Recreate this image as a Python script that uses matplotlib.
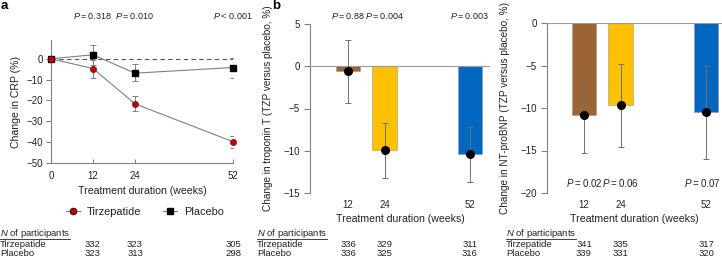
import numpy as np
import matplotlib
matplotlib.use("Agg")
import matplotlib.pyplot as plt
from matplotlib.lines import Line2D
from matplotlib.transforms import blended_transform_factory

plt.rcParams['font.family'] = ['Liberation Sans', 'DejaVu Sans']
plt.rcParams['mathtext.fontset'] = 'custom'
plt.rcParams['mathtext.rm'] = 'Liberation Sans'
plt.rcParams['mathtext.it'] = 'Liberation Sans:italic'

# ---- data ----
weeks_a = [0, 12, 24, 52]
tzp_crp = [0, -4.7, -21.6, -39.8]
tzp_crp_lo = [0, -9.0, -25.0, -42.6]
tzp_crp_hi = [0, -0.5, -18.1, -36.9]
pbo_crp = [0, 1.9, -6.9, -4.2]
pbo_crp_lo = [0, -3.0, -10.9, -9.3]
pbo_crp_hi = [0, 6.7, -2.6, 0.6]
p_crp = ["0.318", "0.010", "< 0.001"]

weeks_b = [12, 24, 52]
trop = [-0.6, -9.9, -10.4]
trop_lo = [-4.3, -13.2, -13.75]
trop_hi = [3.15, -6.7, -7.2]
p_trop = ["0.88", "0.004", "0.003"]

bnp = [-10.85, -9.7, -10.5]
bnp_lo = [-15.3, -14.6, -16.0]
bnp_hi = [-6.4, -4.8, -5.05]
p_bnp = ["0.02", "0.06", "0.07"]

n_crp_tzp = [332, 323, 305]
n_crp_pbo = [323, 313, 298]
n_trop_tzp = [336, 329, 311]
n_trop_pbo = [336, 325, 316]
n_bnp_tzp = [341, 335, 317]
n_bnp_pbo = [339, 331, 320]

bar_colors = ['#9B6432', '#FFC000', '#0067C0']

W, H = 722, 259
fs = 7
tfs = 6.8
lfs = 7.6
txt = '#222222'
grey = '#808080'
ts = '\u2009'  # thin space used in the P values


def fx(px):
    return px / W


def fy(py):
    return 1 - py / H


fig = plt.figure(figsize=(W / 100, H / 100), dpi=100)


def style_axes(ax):
    for s in ['top', 'right']:
        ax.spines[s].set_visible(False)
    ax.spines['left'].set_color(grey)
    ax.spines['left'].set_linewidth(0.8)
    ax.tick_params(axis='y', colors=grey, labelcolor=txt, labelsize=fs,
                   length=3.5, width=0.8, pad=2)


def table(ax, x_pos, left_px, tzp_n, pbo_n):
    tr = blended_transform_factory(ax.transData, fig.transFigure)
    fig.text(fx(left_px), fy(236.3), "$N$ of participants", fontsize=tfs,
             color=txt, va='baseline', ha='left')
    fig.add_artist(Line2D([fx(left_px), fx(left_px + 70)], [fy(238.6)] * 2,
                          color=txt, lw=0.6))
    fig.text(fx(left_px), fy(247.3), "Tirzepatide", fontsize=tfs, color=txt,
             va='baseline', ha='left')
    fig.text(fx(left_px), fy(256.4), "Placebo", fontsize=tfs, color=txt,
             va='baseline', ha='left')
    for x, a, b in zip(x_pos, tzp_n, pbo_n):
        ax.text(x, fy(247.3), str(a), transform=tr, fontsize=tfs, color=txt,
                ha='center', va='baseline', clip_on=False)
        ax.text(x, fy(256.4), str(b), transform=tr, fontsize=tfs, color=txt,
                ha='center', va='baseline', clip_on=False)


# ---- panel a: CRP ----
ax1 = fig.add_axes([fx(51), fy(163), fx(182), fy(40) - fy(163)])
style_axes(ax1)
ax1.spines['bottom'].set_color(grey)
ax1.spines['bottom'].set_linewidth(0.8)
ax1.axhline(0, color='#555555', lw=0.8, ls=(0, (4, 3)), zorder=1)
ax1.plot(weeks_a, tzp_crp, color=grey, lw=0.8, zorder=2)
ax1.plot(weeks_a, pbo_crp, color=grey, lw=0.8, zorder=2)
ax1.errorbar(weeks_a, tzp_crp,
             yerr=[np.subtract(tzp_crp, tzp_crp_lo), np.subtract(tzp_crp_hi, tzp_crp)],
             fmt='none', ecolor=grey, elinewidth=0.7, capsize=2, capthick=0.7, zorder=3)
ax1.errorbar(weeks_a, pbo_crp,
             yerr=[np.subtract(pbo_crp, pbo_crp_lo), np.subtract(pbo_crp_hi, pbo_crp)],
             fmt='none', ecolor=grey, elinewidth=0.7, capsize=2, capthick=0.7, zorder=3)
ax1.plot(weeks_a, tzp_crp, 'o', color='#B00E0E', mec='#6a0000', mew=0.4, ms=4.5,
         zorder=5, clip_on=False)
ax1.plot(weeks_a, pbo_crp, 's', color='black', ms=4.2, zorder=4, clip_on=False)
ax1.set_xlim(0, 52)
ax1.set_ylim(-50, 9)
ax1.set_xticks(weeks_a)
ax1.set_yticks([0, -10, -20, -30, -40, -50])
ax1.tick_params(axis='x', direction='in', colors=grey, labelcolor=txt,
                labelsize=fs, length=3, width=0.8, pad=6)
ax1.set_xlabel("Treatment duration (weeks)", fontsize=lfs, color=txt, labelpad=3)
ax1.set_ylabel("Change in CRP (%)", fontsize=lfs, color=txt, labelpad=4)
tr1 = blended_transform_factory(ax1.transData, fig.transFigure)
for x, p in zip(weeks_b, p_crp):
    sep = ts if p.startswith("<") else ts + "=" + ts
    ax1.text(x, fy(16), "$P$" + sep + p, transform=tr1, fontsize=6.5,
             color=txt, ha='center', va='center', clip_on=False)
handles = [Line2D([], [], color=grey, lw=0.8, marker='o', mfc='#B00E0E',
                  mec='#6a0000', ms=4.5),
           Line2D([], [], color=grey, lw=0.8, marker='s', mfc='black',
                  mec='black', ms=4.2)]
fig.legend(handles, ["Tirzepatide", "Placebo"], loc='center',
           bbox_to_anchor=(fx(145), fy(212)), ncol=2, frameon=False,
           fontsize=7.9, handlelength=1.3, handletextpad=0.6,
           columnspacing=2.0, labelcolor=txt)
table(ax1, weeks_b, 0, n_crp_tzp, n_crp_pbo)
fig.text(fx(1), fy(6), "a", fontsize=9.5, fontweight='bold', va='center')


def bar_panel(rect, vals, lo, hi, ylim, yticks, ylabel, pvals, p_y, p_fs):
    ax = fig.add_axes(rect)
    style_axes(ax)
    ax.tick_params(axis='y', length=4.5, pad=3)
    ax.spines['bottom'].set_visible(False)
    ax.bar(weeks_b, vals, width=8.0, color=bar_colors, edgecolor='#999999',
           linewidth=0.4, zorder=2)
    ax.axhline(0, color='#999999', lw=0.8, zorder=3)
    ax.errorbar(weeks_b, vals,
                yerr=[np.subtract(vals, lo), np.subtract(hi, vals)],
                fmt='none', ecolor='#6f6f6f', elinewidth=0.7, capsize=2.2,
                capthick=0.7, zorder=4)
    ax.plot(weeks_b, vals, 'o', color='black', ms=5.5, zorder=5)
    ax.set_ylim(*ylim)
    ax.set_yticks(yticks)
    ax.set_xticks(weeks_b)
    ax.tick_params(axis='x', length=0, labelsize=fs, labelcolor=txt, pad=5)
    ax.set_xlabel("Treatment duration (weeks)", fontsize=lfs, color=txt,
                  labelpad=3)
    ax.set_ylabel(ylabel, fontsize=7.2, color=txt, labelpad=7)
    tr = blended_transform_factory(ax.transData, fig.transFigure)
    for x, p in zip(weeks_b, pvals):
        ax.text(x, fy(p_y), "$P$" + ts + "=" + ts + p, transform=tr,
                fontsize=p_fs, color=txt, ha='center', va='center',
                clip_on=False)
    return ax


# ---- panel b: troponin ----
ax2 = bar_panel([fx(310), fy(193), fx(180), fy(24) - fy(193)], trop, trop_lo,
                trop_hi, (-15, 5), [5, 0, -5, -10, -15],
                "Change in troponin T (TZP versus placebo, %)", p_trop, 16, 6.5)
ax2.set_xlim(-0.46, 58.6)
table(ax2, weeks_b, 257, n_trop_tzp, n_trop_pbo)
fig.text(fx(272), fy(6), "b", fontsize=9.5, fontweight='bold', va='center')

# ---- panel c: NT-proBNP ----
ax3 = bar_panel([fx(547), fy(193), fx(175), fy(23) - fy(193)], bnp, bnp_lo,
                bnp_hi, (-20, 0), [0, -5, -10, -15, -20],
                "Change in NT-proBNP (TZP versus placebo, %)", p_bnp, 183, 7.0)
ax3.set_xlim(-0.13, 57.2)
# last P value sits against the right edge of the figure, as in the original
ax3.texts[-1].set_ha('right')
ax3.texts[-1].set_transform(fig.transFigure)
ax3.texts[-1].set_position((fx(721), fy(183)))
table(ax3, weeks_b, 506, n_bnp_tzp, n_bnp_pbo)

fig.savefig("out.png", dpi=100)
